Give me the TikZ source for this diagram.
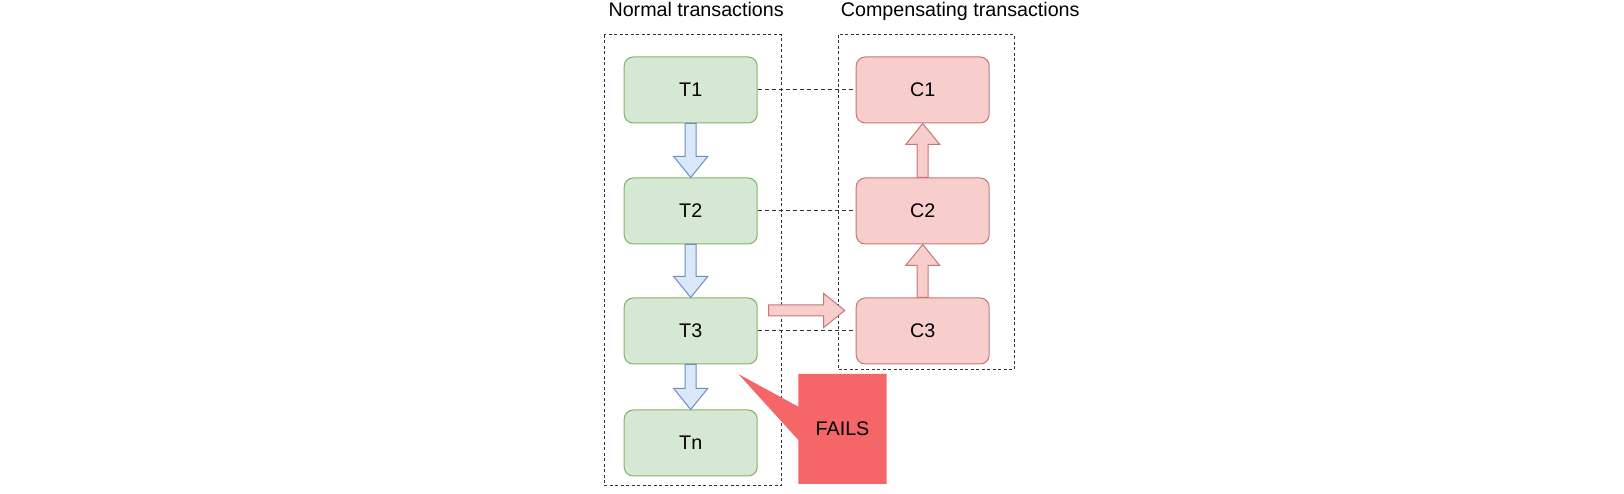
\documentclass[tikz,border=0pt]{standalone}
\usepackage{fontspec}
\setmainfont{Liberation Sans}
\usepackage{tikz}
\usetikzlibrary{calc}

\definecolor{tfill}{HTML}{D5E8D4}
\definecolor{tline}{HTML}{82B366}
\definecolor{cfill}{HTML}{F8CECC}
\definecolor{cline}{HTML}{B85450}
\definecolor{afill}{HTML}{DAE8FC}
\definecolor{aline}{HTML}{6C8EBF}
\definecolor{failred}{RGB}{244,102,104}

\begin{document}
\begin{tikzpicture}[x=1pt, y=1pt,
    font=\fontsize{19.7}{23.6}\selectfont,
    tbox/.style={draw=tline, fill=tfill, line width=1pt, rounded corners=9pt,
        minimum width=133pt, minimum height=66pt},
    cbox/.style={draw=cline!80, fill=cfill, line width=1pt, rounded corners=9pt,
        minimum width=133pt, minimum height=66pt},
    group/.style={draw=black!80, line width=1pt, dash pattern=on 3pt off 2.5pt},
    link/.style={draw=black!80, line width=1pt, dash pattern=on 4pt off 3pt},
    tarrow/.style={draw=aline, fill=afill, line width=1pt, line join=miter},
    carrow/.style={draw=cline!80, fill=cfill, line width=1pt, line join=miter}]
            \useasboundingbox (0,0) rectangle (1624,494);

            % Rahmen der beiden Gruppen
            \draw[group] (604,459) rectangle (781,8);
            \draw[group] (838,459) rectangle (1014,124);
            \node[anchor=base west] (normal) at (605,477.3) {Normal transactions};
            \node[anchor=base west] (comp) at (837.3,477.3) {Compensating transactions};

            % Normale Transaktionen
            \node[tbox] (T1) at (690.7,404) {T1};
            \node[tbox] (T2) at (690.7,283) {T2};
            \node[tbox] (T3) at (690.7,163) {T3};
            \node[tbox] (Tn) at (690.7,51) {Tn};

            % Kompensierende Transaktionen
            \node[cbox] (C1) at (922.7,404) {C1};
            \node[cbox] (C2) at (922.7,283) {C2};
            \node[cbox] (C3) at (922.7,163) {C3};

            % Gestrichelte Zuordnung
            \draw[link] (T1.east) -- (C1.west);
            \draw[link] (T2.east) -- (C2.west);
            \draw[link] (T3.east) -- (C3.west);

            % Pfeile nach unten
            \draw[tarrow] let \p1=(T1.south), \p2=(T2.north) in
                (\x1-5.5,\y1) -- (\x1-5.5,\y2+21) -- (\x1-17,\y2+21) -- (\x1,\y2)
                -- (\x1+17,\y2+21) -- (\x1+5.5,\y2+21) -- (\x1+5.5,\y1) -- cycle;
            \draw[tarrow] let \p1=(T2.south), \p2=(T3.north) in
                (\x1-5.5,\y1) -- (\x1-5.5,\y2+21) -- (\x1-17,\y2+21) -- (\x1,\y2)
                -- (\x1+17,\y2+21) -- (\x1+5.5,\y2+21) -- (\x1+5.5,\y1) -- cycle;
            \draw[tarrow] let \p1=(T3.south), \p2=(Tn.north) in
                (\x1-5.5,\y1) -- (\x1-5.5,\y2+21) -- (\x1-17,\y2+21) -- (\x1,\y2)
                -- (\x1+17,\y2+21) -- (\x1+5.5,\y2+21) -- (\x1+5.5,\y1) -- cycle;

            % Pfeile nach oben
            \draw[carrow] let \p1=(C3.north), \p2=(C2.south) in
                (\x1-5.5,\y1) -- (\x1-5.5,\y2-21) -- (\x1-17,\y2-21) -- (\x1,\y2)
                -- (\x1+17,\y2-21) -- (\x1+5.5,\y2-21) -- (\x1+5.5,\y1) -- cycle;
            \draw[carrow] let \p1=(C2.north), \p2=(C1.south) in
                (\x1-5.5,\y1) -- (\x1-5.5,\y2-21) -- (\x1-17,\y2-21) -- (\x1,\y2)
                -- (\x1+17,\y2-21) -- (\x1+5.5,\y2-21) -- (\x1+5.5,\y1) -- cycle;

            % Wechsel von T3 nach C3
            \draw[carrow] let \p1=($(T3.east)+(11,20.5)$), \p2=($(C3.west)+(-11,20.5)$) in
                (\x1,\y1-5.5) -- (\x2-21,\y1-5.5) -- (\x2-21,\y1-17) -- (\x2,\y2)
                -- (\x2-21,\y1+17) -- (\x2-21,\y1+5.5) -- (\x1,\y1+5.5) -- cycle;

            % Fehler bei T3
            \coordinate (tip) at (738.3,120);
            \fill[failred] (798.3,120) -- (886.7,120) -- (886.7,10) -- (798.3,10)
                -- (798.3,54) -- (tip) -- (798.3,87.3) -- cycle;
            \node (fails) at (842.5,65) {FAILS};
\end{tikzpicture}
\end{document}
